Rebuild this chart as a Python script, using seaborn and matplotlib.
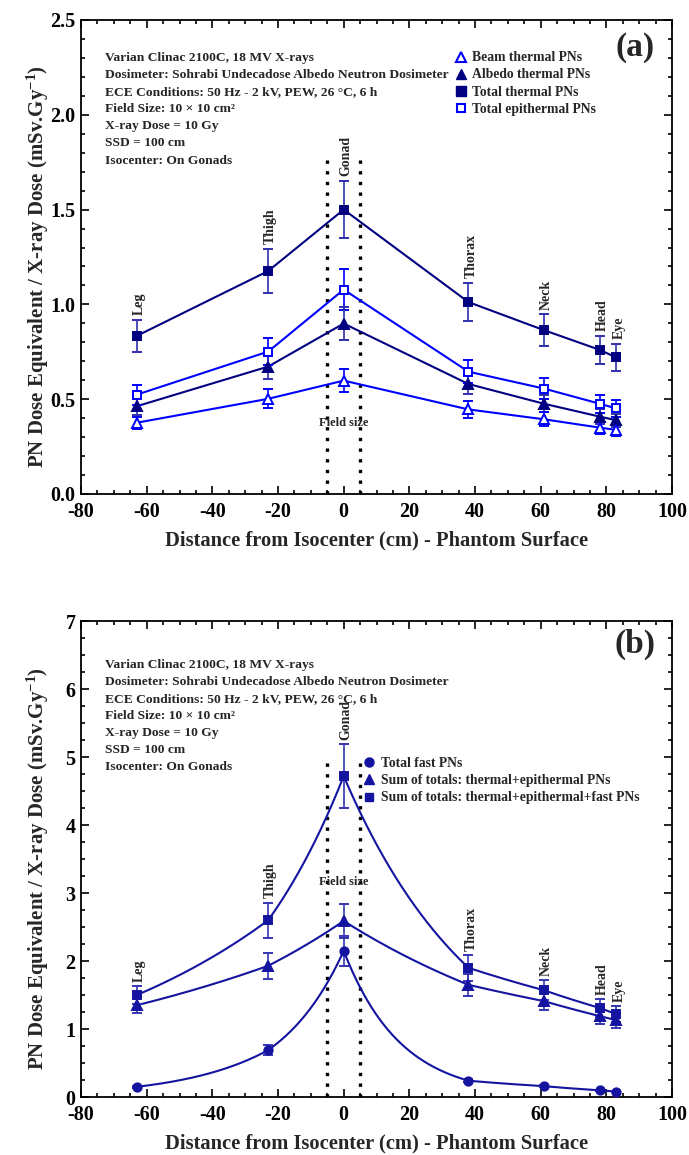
import numpy as np
import matplotlib
matplotlib.use('Agg')
import matplotlib.pyplot as plt
import seaborn as sns
from matplotlib.lines import Line2D
from matplotlib.ticker import MultipleLocator, FormatStrFormatter

# positions along the phantom (cm from isocenter)
sites = ['Leg', 'Thigh', 'Gonad', 'Thorax', 'Neck', 'Head', 'Eye']
dist = [-63, -23, 0, 38, 61, 78, 83]

# panel (a) - thermal / epithermal photoneutrons
beam_thermal = [0.376, 0.502, 0.598, 0.446, 0.394, 0.350, 0.338]
beam_thermal_err = [0.032, 0.050, 0.059, 0.044, 0.038, 0.033, 0.030]
albedo_thermal = [0.463, 0.672, 0.899, 0.580, 0.476, 0.408, 0.389]
albedo_thermal_err = [0.045, 0.064, 0.087, 0.050, 0.045, 0.040, 0.035]
total_thermal = [0.834, 1.176, 1.500, 1.012, 0.864, 0.760, 0.720]
total_thermal_err = [0.083, 0.118, 0.152, 0.102, 0.084, 0.074, 0.072]
total_epi = [0.524, 0.751, 1.078, 0.645, 0.556, 0.476, 0.451]
total_epi_err = [0.052, 0.073, 0.107, 0.062, 0.054, 0.048, 0.044]

# panel (b) - fast and summed photoneutrons
fast = [0.15, 0.69, 2.15, 0.24, 0.16, 0.10, 0.08]
fast_err = [0.015, 0.07, 0.22, 0.025, 0.016, 0.01, 0.008]
sum_th_epi = [1.35, 1.93, 2.59, 1.65, 1.41, 1.19, 1.13]
sum_th_epi_err = [0.12, 0.19, 0.25, 0.16, 0.13, 0.12, 0.11]
sum_all = [1.50, 2.60, 4.72, 1.90, 1.57, 1.31, 1.22]
sum_all_err = [0.13, 0.26, 0.47, 0.19, 0.15, 0.13, 0.12]

info_lines = ['Varian Clinac 2100C, 18 MV X-rays',
              'Dosimeter: Sohrabi Undecadose Albedo Neutron Dosimeter',
              'ECE Conditions: 50 Hz - 2 kV, PEW, 26 \u00b0C, 6 h',
              'Field Size: 10 \u00d7 10 cm\u00b2',
              'X-ray Dose = 10 Gy',
              'SSD = 100 cm',
              'Isocenter: On Gonads']

NAVY = '#000080'
BLUE = '#0000FF'
BNAVY = '#1414A0'

sns.set_theme(style='ticks')
plt.rcParams['font.family'] = ['Liberation Serif', 'DejaVu Serif']
plt.rcParams['font.weight'] = 'bold'
plt.rcParams['axes.labelweight'] = 'bold'
plt.rcParams['axes.unicode_minus'] = False
plt.rcParams['mathtext.fontset'] = 'custom'
plt.rcParams['mathtext.rm'] = 'Liberation Serif:bold'
plt.rcParams['mathtext.bf'] = 'Liberation Serif:bold'
plt.rcParams['mathtext.default'] = 'bf'


def style_axes(ax, ymax, ymajor, yminor, fmt, text_top):
    ax.set_xlim(-80, 100)
    ax.set_ylim(0, ymax)
    ax.xaxis.set_major_locator(MultipleLocator(20))
    ax.xaxis.set_minor_locator(MultipleLocator(5))
    ax.yaxis.set_major_locator(MultipleLocator(ymajor))
    ax.yaxis.set_minor_locator(MultipleLocator(yminor))
    ax.yaxis.set_major_formatter(FormatStrFormatter(fmt))
    ax.tick_params(which='both', direction='in', top=True, right=True, width=1.2, colors='black')
    ax.tick_params(which='major', length=6, labelsize=14.5)
    ax.tick_params(axis='x', which='major', pad=6)
    ax.tick_params(axis='y', which='major', pad=4)
    ax.tick_params(which='minor', length=3)
    for s in ax.spines.values():
        s.set_linewidth(1.3)
        s.set_color('black')
    ax.set_xlabel('Distance from Isocenter (cm) - Phantom Surface', fontsize=14.8, labelpad=6)
    ax.set_ylabel('PN Dose Equivalent / X-ray Dose (mSv.Gy$^{-1}$)', fontsize=15)
    ax.yaxis.set_label_coords(-0.051, 0.48)
    ax.text(0.04, text_top, '\n'.join(info_lines), transform=ax.transAxes, va='top', ha='left',
            fontsize=9.7, linespacing=1.57)


def series(ax, y, err, marker, color, ecolor, filled, curve=False, ms=5.5):
    if curve:
        xs = np.linspace(dist[0], dist[-1], 600)
        ys = np.exp(np.interp(xs, dist, np.log(y)))
        sns.lineplot(x=xs, y=ys, ax=ax, color=color, lw=1.5, sort=False, zorder=2)
    else:
        sns.lineplot(x=dist, y=y, ax=ax, color=color, lw=1.5, sort=False, zorder=2)
    ax.errorbar(dist, y, yerr=err, fmt=marker, ms=ms, mfc=color if filled else 'white',
                mec=color, mew=1.4, ecolor=ecolor, elinewidth=1.2, capsize=3.3, capthick=1.2, zorder=3)


def site_labels(ax, top, top_err, pad):
    for name, x, v, e in zip(sites, dist, top, top_err):
        ax.text(x + 0.8, v + e + pad, name, rotation=90, ha='center', va='bottom', fontsize=10)


fig = plt.figure(figsize=(6.89, 11.55), dpi=100)
ax_a = fig.add_axes([0.1176, 0.5723, 0.8578, 0.4104])
ax_b = fig.add_axes([0.1176, 0.0502, 0.8578, 0.4121])

# ---- panel (a)
style_axes(ax_a, 2.5, 0.5, 0.1, '%.1f', 0.933)
for xv in (-5, 5):
    ax_a.plot([xv, xv], [0, 1.78], ls=(0, (1, 2.2)), lw=2.4, color='black', zorder=1)
ax_a.text(0, 0.376, 'Field size', ha='center', va='center', fontsize=9)
series(ax_a, total_thermal, total_thermal_err, 's', NAVY, '#3030B0', True)
series(ax_a, total_epi, total_epi_err, 's', BLUE, BLUE, False)
series(ax_a, albedo_thermal, albedo_thermal_err, '^', NAVY, '#3030B0', True, ms=6.5)
series(ax_a, beam_thermal, beam_thermal_err, '^', BLUE, BLUE, False, ms=6.5)
site_labels(ax_a, total_thermal, total_thermal_err, 0.025)
ax_a.text(0.937, 0.943, '(a)', transform=ax_a.transAxes, ha='center', va='center', fontsize=24)
h_a = [Line2D([], [], ls='none', marker='^', ms=6.5, mfc='white', mec=BLUE, mew=1.5, label='Beam thermal PNs'),
       Line2D([], [], ls='none', marker='^', ms=6.5, mfc=NAVY, mec=NAVY, label='Albedo thermal PNs'),
       Line2D([], [], ls='none', marker='s', ms=6.5, mfc=NAVY, mec=NAVY, label='Total thermal PNs'),
       Line2D([], [], ls='none', marker='s', ms=6, mfc='white', mec=BLUE, mew=1.5, label='Total epithermal PNs')]
ax_a.legend(handles=h_a, loc='upper left', bbox_to_anchor=(0.631, 0.934), frameon=False, fontsize=9.8,
            handlelength=1.0, handletextpad=0.3, labelspacing=0.31, borderaxespad=0, borderpad=0)

# ---- panel (b)
style_axes(ax_b, 7, 1, 0.25, '%d', 0.921)
for xv in (-5, 5):
    ax_b.plot([xv, xv], [0, 4.94], ls=(0, (1, 2.2)), lw=2.4, color='black', zorder=1)
ax_b.text(0, 3.16, 'Field size', ha='center', va='center', fontsize=9)
series(ax_b, sum_all, sum_all_err, 's', BNAVY, '#3535B5', True, curve=True)
series(ax_b, sum_th_epi, sum_th_epi_err, '^', BNAVY, '#3535B5', True, curve=True, ms=6.5)
series(ax_b, fast, fast_err, 'o', BNAVY, '#3535B5', True, curve=True, ms=6)
site_labels(ax_b, sum_all, sum_all_err, 0.06)
ax_b.text(0.937, 0.952, '(b)', transform=ax_b.transAxes, ha='center', va='center', fontsize=24)
h_b = [Line2D([], [], ls='none', marker='o', ms=6.5, mfc=BNAVY, mec=BNAVY, label='Total fast PNs'),
       Line2D([], [], ls='none', marker='^', ms=7, mfc=BNAVY, mec=BNAVY, label='Sum of totals: thermal+epithermal PNs'),
       Line2D([], [], ls='none', marker='s', ms=6, mfc=BNAVY, mec=BNAVY, label='Sum of totals: thermal+epithermal+fast PNs')]
ax_b.legend(handles=h_b, loc='upper left', bbox_to_anchor=(0.476, 0.714), frameon=False, fontsize=9.8,
            handlelength=1.0, handletextpad=0.4, labelspacing=0.3, borderaxespad=0, borderpad=0)

fig.savefig('out.png', dpi=100)
